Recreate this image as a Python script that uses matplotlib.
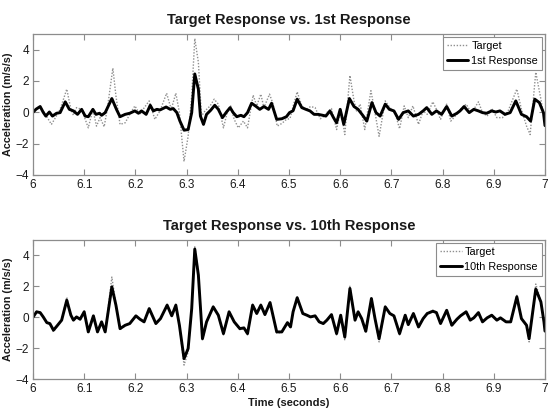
import matplotlib

matplotlib.use("Agg")

import matplotlib.pyplot as plt

plt.rcParams["font.family"] = ["Liberation Sans", "DejaVu Sans"]

INK = "#1a1a1a"
FRAME = "#8c8c8c"
TARGET_GREY = "#8f8f8f"

# top panel: target vs 1st response
t_resp1 = [6.000, 6.006, 6.014, 6.020, 6.025, 6.032, 6.038, 6.046, 6.053, 6.063,
           6.071, 6.079, 6.087, 6.095, 6.102, 6.108, 6.117, 6.123, 6.130, 6.134,
           6.141, 6.154, 6.163, 6.170, 6.180, 6.189, 6.199, 6.206, 6.212, 6.221,
           6.229, 6.235, 6.242, 6.248, 6.260, 6.268, 6.274, 6.281, 6.287, 6.295,
           6.303, 6.310, 6.316, 6.323, 6.327, 6.333, 6.339, 6.347, 6.355, 6.362,
           6.370, 6.378, 6.385, 6.391, 6.398, 6.406, 6.412, 6.419, 6.427, 6.436,
           6.443, 6.451, 6.460, 6.466, 6.476, 6.486, 6.495, 6.501, 6.508, 6.516,
           6.525, 6.533, 6.541, 6.549, 6.557, 6.566, 6.572, 6.580, 6.587, 6.593,
           6.600, 6.607, 6.618, 6.627, 6.635, 6.644, 6.652, 6.662, 6.670, 6.678,
           6.688, 6.696, 6.705, 6.714, 6.723, 6.733, 6.743, 6.753, 6.762, 6.769,
           6.779, 6.788, 6.798, 6.808, 6.818, 6.828, 6.834, 6.842, 6.852, 6.861,
           6.870, 6.878, 6.886, 6.896, 6.904, 6.912, 6.922, 6.932, 6.943, 6.954,
           6.964, 6.972, 6.980, 6.989, 6.997, 7.000]
resp1 = [0.00, 0.20, 0.37, 0.00, -0.24, 0.02, -0.24, -0.06, -0.02, 0.67,
         0.19, 0.09, -0.13, 0.19, -0.24, -0.28, 0.19, -0.13, -0.06, -0.19,
         -0.02, 0.88, 0.19, -0.28, -0.13, -0.06, 0.09, -0.06, 0.09, -0.13,
         0.45, 0.09, 0.19, 0.15, 0.34, 0.19, 0.24, -0.02, -0.56, -1.14,
         -1.10, -0.02, 2.45, 1.48, -0.24, -0.77, -0.13, 0.13, 0.45, 0.19,
         -0.34, 0.02, 0.30, -0.02, -0.28, -0.19, -0.28, -0.02, 0.58, 0.37,
         0.19, 0.37, 0.19, 0.58, -0.45, -0.41, -0.28, -0.02, 0.10, 0.84,
         0.30, 0.19, 0.09, -0.13, -0.13, -0.19, -0.24, 0.09, -0.34, -0.67,
         0.19, -0.77, 0.88, 0.37, 0.19, -0.19, -0.56, 0.62, -0.02, -0.24,
         0.52, 0.19, 0.09, -0.45, -0.02, 0.09, -0.24, -0.13, 0.09, 0.30,
         -0.13, 0.09, -0.13, 0.37, -0.24, -0.06, 0.09, 0.37, -0.02, 0.19,
         0.09, -0.02, -0.06, 0.09, 0.02, 0.09, -0.13, -0.02, 0.73, -0.13,
         -0.28, -0.56, 0.84, 0.62, -0.02, -0.85]

t_target1 = [6.000, 6.006, 6.014, 6.020, 6.027, 6.036, 6.045, 6.053, 6.066, 6.074,
             6.079, 6.085, 6.095, 6.108, 6.117, 6.124, 6.131, 6.139, 6.145, 6.156,
             6.162, 6.170, 6.180, 6.189, 6.199, 6.209, 6.215, 6.227, 6.238, 6.248,
             6.261, 6.270, 6.279, 6.286, 6.295, 6.303, 6.310, 6.316, 6.323, 6.329,
             6.336, 6.346, 6.354, 6.362, 6.372, 6.380, 6.386, 6.393, 6.401, 6.411,
             6.419, 6.430, 6.437, 6.445, 6.451, 6.462, 6.469, 6.477, 6.486, 6.495,
             6.502, 6.509, 6.516, 6.525, 6.533, 6.542, 6.551, 6.561, 6.567, 6.575,
             6.583, 6.593, 6.601, 6.609, 6.619, 6.627, 6.632, 6.639, 6.648, 6.660,
             6.668, 6.676, 6.688, 6.697, 6.707, 6.716, 6.725, 6.733, 6.742, 6.753,
             6.762, 6.770, 6.781, 6.788, 6.796, 6.808, 6.816, 6.826, 6.835, 6.846,
             6.854, 6.861, 6.870, 6.878, 6.887, 6.896, 6.906, 6.917, 6.928, 6.945,
             6.954, 6.964, 6.971, 6.982, 6.992, 6.998, 7.000]
target1 = [0.00, 0.25, 0.37, 0.09, -0.28, -0.77, -0.28, 0.19, 1.48, 0.19,
           -0.19, 0.30, 0.19, -0.99, 0.19, -0.88, -0.34, -0.92, 0.19, 2.82,
           1.05, -0.77, -0.67, -0.13, 0.41, -0.13, 0.19, 0.73, -0.45, 0.09,
           1.22, 0.19, 1.22, -0.02, -3.14, -1.53, 1.05, 4.71, 3.20, -0.24,
           0.09, 0.41, 0.84, 0.52, -0.99, 0.09, 0.41, -0.45, -0.99, -0.56,
           -0.99, 1.10, 0.41, 1.16, 0.30, 1.16, 0.52, -0.88, -0.71, -0.45,
           -0.40, 0.50, 1.31, 0.41, 0.15, 0.37, 0.30, -0.41, -0.28, 0.02,
           0.24, -1.10, 0.19, -1.42, 2.35, 0.73, 0.09, 0.52, -1.10, 1.38,
           -0.02, -1.53, 0.73, 0.30, -0.02, -1.05, 0.41, -0.34, 0.41, -0.77,
           0.09, -0.13, 0.67, 0.19, -0.45, 0.52, -0.56, -0.19, 0.19, 0.52,
           0.09, 0.19, 0.67, -0.02, -0.24, 0.24, -0.34, -0.34, 0.09, 1.48,
           0.19, -0.88, -1.42, 2.56, 0.84, -0.34, -0.70]

# bottom panel: target vs 10th response (same sample times)
t_10 = [6.000, 6.007, 6.014, 6.020, 6.027, 6.033, 6.040, 6.048, 6.056, 6.066,
        6.074, 6.079, 6.085, 6.092, 6.100, 6.108, 6.118, 6.126, 6.134, 6.141,
        6.154, 6.162, 6.170, 6.180, 6.189, 6.201, 6.209, 6.217, 6.227, 6.240,
        6.249, 6.262, 6.271, 6.279, 6.286, 6.295, 6.303, 6.310, 6.316, 6.323,
        6.331, 6.339, 6.352, 6.362, 6.372, 6.383, 6.393, 6.404, 6.412, 6.419,
        6.429, 6.437, 6.445, 6.453, 6.463, 6.476, 6.486, 6.497, 6.503, 6.508,
        6.516, 6.527, 6.535, 6.542, 6.551, 6.559, 6.567, 6.574, 6.583, 6.593,
        6.601, 6.609, 6.619, 6.629, 6.635, 6.642, 6.650, 6.661, 6.668, 6.676,
        6.688, 6.697, 6.705, 6.716, 6.727, 6.733, 6.743, 6.753, 6.762, 6.770,
        6.781, 6.788, 6.796, 6.808, 6.818, 6.828, 6.835, 6.846, 6.854, 6.861,
        6.870, 6.878, 6.887, 6.896, 6.906, 6.913, 6.924, 6.933, 6.945, 6.954,
        6.964, 6.969, 6.982, 6.992, 6.998, 7.000]
resp10 = [0.00, 0.35, 0.30, 0.02, -0.35, -0.41, -0.84, -0.52, -0.19, 1.10,
          0.13, -0.19, 0.02, -0.13, 0.35, -0.95, 0.09, -0.95, -0.30, -0.95,
          1.97, 0.78, -0.74, -0.52, -0.41, 0.09, -0.13, -0.30, 0.56, -0.41,
          -0.09, 0.78, 0.09, 0.78, -0.52, -2.68, -2.03, 0.56, 4.41, 2.73,
          -1.39, -0.30, 0.67, 0.13, -1.06, 0.35, -0.30, -0.74, -0.69, -1.06,
          0.78, 0.24, 0.78, 0.17, 0.95, -0.95, -0.95, -0.35, -0.63, 0.35,
          1.26, 0.24, 0.13, 0.02, 0.09, -0.30, -0.41, -0.19, 0.17, -1.06,
          0.13, -1.28, 1.86, -0.19, 0.35, -0.09, -0.91, 1.21, -0.09, -1.39,
          0.67, 0.24, 0.09, -1.06, 0.13, -0.48, 0.24, -0.63, -0.09, 0.24,
          0.39, 0.30, -0.41, 0.45, -0.52, -0.13, 0.09, 0.35, -0.19, -0.04,
          0.30, -0.30, -0.04, 0.13, -0.19, -0.04, -0.30, -0.30, 1.32, -0.09,
          -0.52, -1.39, 1.82, 0.99, -0.30, -0.90]
target10 = [0.00, 0.38, 0.32, 0.00, -0.38, -0.45, -0.95, -0.55, -0.20, 1.30,
            0.12, -0.22, 0.04, -0.15, 0.40, -1.05, 0.10, -1.02, -0.32, -1.02,
            2.60, 0.85, -0.80, -0.55, -0.44, 0.12, -0.15, -0.33, 0.62, -0.45,
            -0.10, 0.85, 0.10, 0.85, -0.58, -3.10, -2.25, 0.60, 4.60, 2.85,
            -1.50, -0.32, 0.72, 0.12, -1.15, 0.38, -0.33, -0.80, -0.72, -1.15,
            0.85, 0.22, 0.85, 0.15, 1.02, -1.02, -1.00, -0.38, -0.68, 0.38,
            1.35, 0.26, 0.14, 0.00, 0.11, -0.33, -0.44, -0.20, 0.19, -1.15,
            0.14, -1.50, 2.05, -0.22, 0.38, -0.10, -1.00, 1.30, -0.10, -1.60,
            0.72, 0.26, 0.10, -1.15, 0.15, -0.55, 0.28, -0.70, -0.10, 0.28,
            0.45, 0.33, -0.45, 0.50, -0.58, -0.15, 0.10, 0.40, -0.22, -0.05,
            0.34, -0.33, -0.05, 0.15, -0.22, -0.05, -0.33, -0.33, 1.42, -0.10,
            -0.58, -1.60, 2.15, 1.05, -0.33, -0.95]

x_ticks = [6.0, 6.1, 6.2, 6.3, 6.4, 6.5, 6.6, 6.7, 6.8, 6.9, 7.0]
x_tick_labels = ["6", "6.1", "6.2", "6.3", "6.4", "6.5", "6.6", "6.7", "6.8", "6.9", "7"]
y_ticks = [-4, -2, 0, 2, 4]


def style_axes(ax):
    ax.set_xlim(6, 7)
    ax.set_ylim(-4, 5)
    ax.set_xticks(x_ticks, labels=x_tick_labels)
    ax.set_yticks(y_ticks)
    ax.tick_params(direction="in", top=True, right=True, length=4, width=0.8,
                   color=FRAME, labelcolor=INK, labelsize=8.5, pad=3)
    for spine in ax.spines.values():
        spine.set_color(FRAME)
        spine.set_linewidth(0.9)
    ax.set_ylabel("Acceleration (m/s/s)", fontsize=7.8, fontweight="bold", color=INK, labelpad=2)


fig = plt.figure(figsize=(5.48, 4.13), dpi=100)
ax1 = fig.add_axes([0.0602, 0.5763, 0.9343, 0.3414])
ax2 = fig.add_axes([0.0602, 0.0823, 0.9343, 0.3366])

line_kw = dict(solid_joinstyle="round", solid_capstyle="round")
dot_kw = dict(linestyle=(0, (1, 1.2)), linewidth=1.0, color=TARGET_GREY)

ax1.plot(t_target1, target1, label="Target", **dot_kw)
ax1.plot(t_resp1, resp1, color="black", linewidth=2.1, label="1st Response", **line_kw)
style_axes(ax1)
ax1.set_title("Target Response vs. 1st Response", fontsize=10.6, fontweight="bold", color=INK, pad=7)

ax2.plot(t_10, target10, label="Target", **dot_kw)
ax2.plot(t_10, resp10, color="black", linewidth=2.1, label="10th Response", **line_kw)
style_axes(ax2)
ax2.set_title("Target Response vs. 10th Response", fontsize=10.6, fontweight="bold", color=INK, pad=7)
ax2.set_xlabel("Time (seconds)", fontsize=8, fontweight="bold", color=INK, labelpad=2)

for ax in (ax1, ax2):
    leg = ax.legend(loc="upper right", fontsize=7.8, handlelength=2.0, handletextpad=0.25,
                    borderpad=0.35, labelspacing=0.45, fancybox=False, framealpha=1,
                    borderaxespad=0.3)
    leg.get_frame().set_edgecolor(FRAME)
    leg.get_frame().set_linewidth(0.8)

fig.savefig("out.png", dpi=100, facecolor="white")
